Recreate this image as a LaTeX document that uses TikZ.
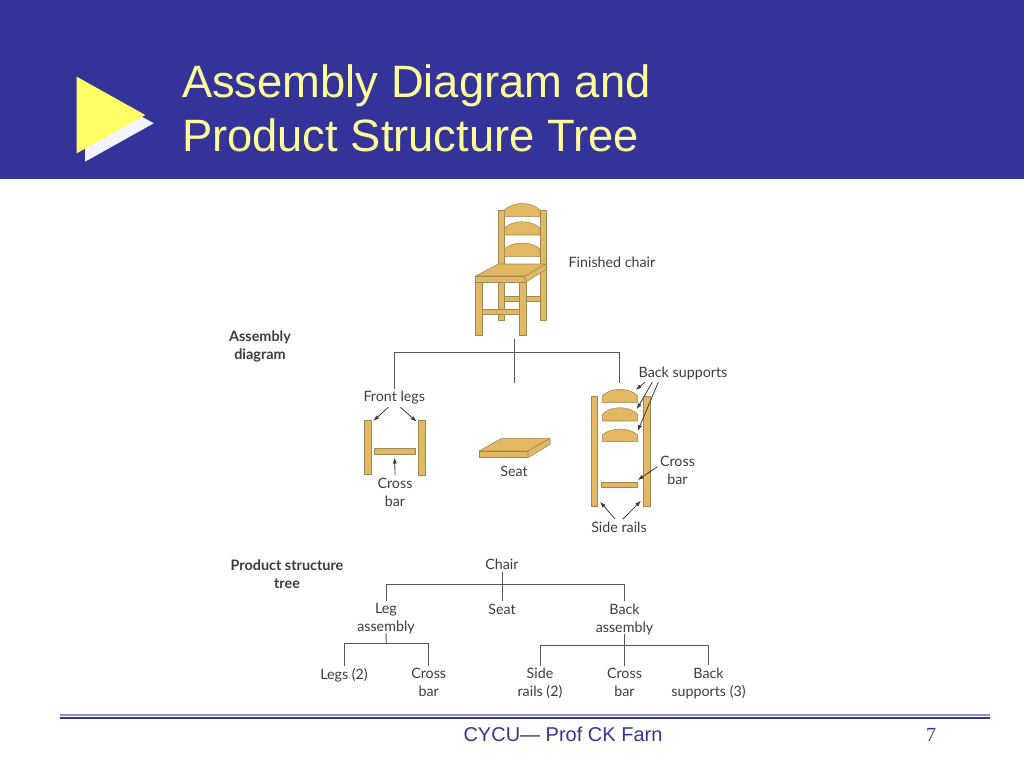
\documentclass[tikz,border=0pt]{standalone}
\usepackage{fontspec}
\setmainfont{Liberation Sans}
\newfontfamily\figfont{Lato}
\newfontfamily\pagefont{Liberation Serif}
\definecolor{band}{HTML}{333399}
\definecolor{titleyellow}{HTML}{FFFF99}
\definecolor{arrowyellow}{HTML}{FFFF66}
\definecolor{whitish}{HTML}{F4F4FF}
\definecolor{pale}{HTML}{8F8FD0}
\definecolor{wood}{HTML}{E3B863}
\definecolor{woodedge}{HTML}{9C8856}
\definecolor{ink}{HTML}{3C3C3C}
\definecolor{wire}{HTML}{555555}
\usetikzlibrary{arrows.meta}
\usetikzlibrary{positioning}
\tikzstyle{base}=[x=0.75pt, y=-0.75pt, inner sep=0pt, outer sep=0pt]
\tikzstyle{part}=[draw=woodedge, fill=wood, line width=0.4pt, line join=round]
\tikzstyle{lbl}=[ink, align=center, font=\figfont\fontsize{10.7}{13.5}\selectfont, inner sep=2pt]
\tikzstyle{head}=[ink, align=center, font=\figfont\bfseries\fontsize{10.8}{13.5}\selectfont]
\tikzstyle{wireline}=[wire, line width=0.7pt]
\tikzstyle{pointer}=[-{Latex[length=4.5pt,width=3.2pt]}, ink, line width=0.6pt]
\newcommand*{\slat}[5]{% x left, x right, top, side, bottom
    \draw [part] (#1,#5) -- (#1,#4) .. controls ({#1 + 9},{#3 - (#4 - #3)/3}) and ({#2 - 9},{#3 - (#4 - #3)/3}) .. (#2,#4) -- (#2,#5) -- cycle;
}
\newcommand*{\board}[2]{% left x of top, and y of the front edge
    \draw [part] (#1,#2) -- (#1 + 22.7,#2 - 12.7) -- (#1 + 71,#2 - 12.7) -- (#1 + 49,#2) -- cycle;
    \draw [part] (#1,#2) rectangle (#1 + 49,#2 + 6.7);
    \draw [part] (#1 + 49,#2) -- (#1 + 71,#2 - 12.7) -- (#1 + 71,#2 - 6.5) -- (#1 + 49,#2 + 6.7) -- cycle;
}

\begin{document}
\begin{tikzpicture}[base]
    \path [use as bounding box] (0,0) rectangle (1024,768);

    % title band
    \fill [band] (0,0) rectangle (1024,179);
    \fill [whitish] (85,85) -- (153.7,123.3) -- (85,161.7) -- cycle;
    \fill [arrowyellow] (76.7,76.7) -- (145.3,115) -- (76.7,153.3) -- cycle;
    \node [titleyellow, anchor=base west, font=\fontsize{34}{42}\selectfont] (titleone) at (182,97) {Assembly Diagram and};
    \node [titleyellow, anchor=base west, font=\fontsize{34}{42}\selectfont] (titletwo) at (182,151) {Product Structure Tree};

    % finished chair
    \draw [part] (498.3,210) rectangle (504.3,320);
    \draw [part] (540,210) rectangle (546,320);
    \slat{504.3}{540}{203.5}{210}{216.7}
    \slat{504.3}{540}{221.7}{228}{235}
    \slat{504.3}{540}{243}{249}{256.7}
    \draw [part] (504.3,296.7) rectangle (540,301.7);
    \draw [part] (475.7,282.7) rectangle (482.7,335.7);
    \draw [part] (519.3,282.7) rectangle (526.3,335.7);
    \draw [part] (482.7,309.3) rectangle (519.3,314.3);
    \draw [part] (475.7,276) -- (498.3,264) -- (546,264) -- (525,276) -- cycle;
    \draw [part] (475.7,276) rectangle (525,282.7);
    \draw [part] (525,276) -- (546,264) -- (546,269.5) -- (525,282.7) -- cycle;

    % exploded parts
    \draw [part] (364,420.3) rectangle (371,474.7);
    \draw [part] (418.7,420.3) rectangle (425.7,475.5);
    \draw [part] (374,448.3) rectangle (415.7,454);
    \board{479}{451}
    \draw [part] (591,396) rectangle (597.3,506);
    \draw [part] (643.3,396) rectangle (650,506);
    \slat{602.3}{637.7}{389.3}{395.7}{402.7}
    \slat{602.3}{637.7}{407.7}{414.3}{421}
    \slat{602.3}{637.7}{429}{435}{441.7}
    \draw [part] (601.3,482.3) rectangle (637.7,487.3);

    % labels of the assembly diagram
    \node [lbl] (finished) at (612,262.5) {Finished chair};
    \node [head] (asmhead) at (260,346) {Assembly\\diagram};
    \node [lbl] (frontlegs) at (394.3,398) {Front legs};
    \node [lbl] (legbar) at (395,492) {Cross\\bar};
    \node [lbl] (seatpart) at (514,471.5) {Seat};
    \node [lbl] (backsup) at (683,373) {Back supports};
    \node [lbl] (backbar) at (677.5,470) {Cross\\bar};
    \node [lbl] (rails) at (619,527) {Side rails};

    \coordinate (chairfoot) at (514.3,339);
    \coordinate (seatdrop) at (514.3,383.3);
    \coordinate (backdrop) at (619.3,383.3);
    \coordinate (asmbus) at (514.3,352.7);
    \draw [wireline] (chairfoot) -- (seatdrop);
    \draw [wireline] (frontlegs.north) |- (asmbus) -| (backdrop);

    \coordinate (legtipl) at (373.3,421);
    \coordinate (legtipr) at (416.7,421.7);
    \coordinate (bartip) at (394.7,457.5);
    \coordinate (suptipa) at (635.7,390);
    \coordinate (suptipb) at (636.7,409.3);
    \coordinate (suptipc) at (637.7,431);
    \coordinate (crosstip) at (637.7,480);
    \coordinate (railtipl) at (600,501.7);
    \coordinate (railtipr) at (641,500.7);
    \draw [pointer] ([xshift=-4.5pt]frontlegs.south) -- (legtipl);
    \draw [pointer] ([xshift=4.5pt]frontlegs.south) -- (legtipr);
    \draw [pointer] (legbar.north) -- (bartip);
    \draw [pointer] ([xshift=-28.5pt]backsup.south) -- (suptipa);
    \draw [pointer] ([xshift=-23pt]backsup.south) -- (suptipb);
    \draw [pointer] ([xshift=-18.5pt]backsup.south) -- (suptipc);
    \draw [pointer] ([yshift=2.5pt]backbar.west) -- (crosstip);
    \draw [pointer] ([xshift=-3pt]rails.north) -- (railtipl);
    \draw [pointer] ([xshift=3pt]rails.north) -- (railtipr);

    % product structure tree
    \node [head] (treehead) at (287,574) {Product structure\\tree};
    \node [lbl] (chair) at (502,564.5) {Chair};
    \node [lbl] (legasm) at (386,619) {Leg\\assembly};
    \node [lbl] (seat) at (502,609) {Seat};
    \node [lbl] (backasm) at (624.5,619) {Back\\assembly};
    \node [lbl] (legs) at (344,675) {Legs (2)};
    \node [lbl] (bara) at (428.7,682.5) {Cross\\bar};
    \node [lbl] (siderails) at (540,683.5) {Side\\rails (2)};
    \node [lbl] (barb) at (624.5,682.5) {Cross\\bar};
    \node [lbl] (supports) at (708.5,683.5) {Back\\supports (3)};

    \coordinate (chairbus) at (502,584);
    \coordinate (legbus) at (386.3,643.3);
    \coordinate (backbus) at (624.5,645);
    \draw [wireline] (chair.south) -- (seat.north);
    \draw [wireline] (legasm.north) |- (chairbus) -| (backasm.north);
    \draw [wireline] ([yshift=3pt]legasm.south) -- (legbus);
    \draw [wireline] (legs.north) |- (legbus) -| (bara.north);
    \draw [wireline] ([yshift=2pt]backasm.south) -- (barb.north);
    \draw [wireline] (siderails.north) |- (backbus) -| (supports.north);

    % footer
    \fill [pale] (60,714.2) rectangle (990,716);
    \fill [band] (60,717.4) rectangle (990,719.2);
    \node [band, font=\fontsize{15}{17}\selectfont] (footer) at (563,734.5) {CYCU--- Prof CK Farn};
    \node [band, font=\pagefont\fontsize{15}{17}\selectfont] (pagenum) at (931,735) {7};
\end{tikzpicture}
\end{document}
